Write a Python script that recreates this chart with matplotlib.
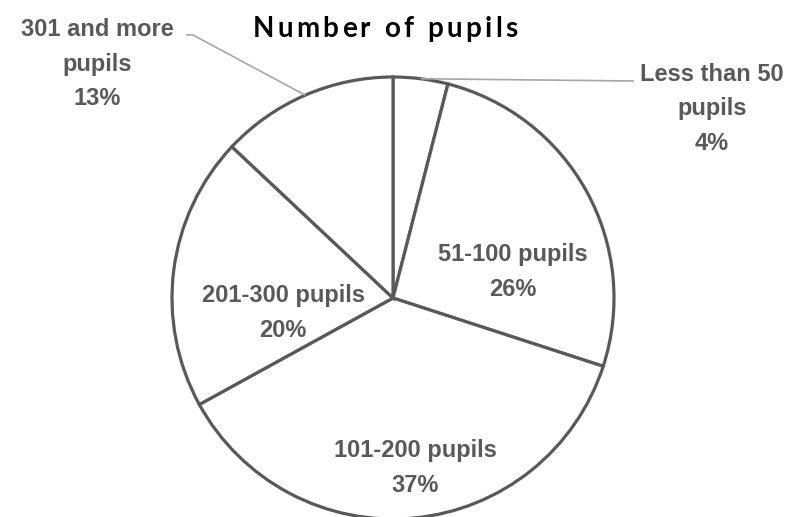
import numpy as np
import matplotlib
matplotlib.use("Agg")
import matplotlib.pyplot as plt

categories = ["Less than 50\npupils", "51-100 pupils", "101-200 pupils", "201-300 pupils", "301 and more\npupils"]
values = [4, 26, 37, 20, 13]
title = "Number of pupils"

W, H = 792, 517
fig = plt.figure(figsize=(W / 100, H / 100), dpi=100)
ax = fig.add_axes([0, 0, 1, 1])
ax.set_xlim(0, W)
ax.set_ylim(0, H)
ax.set_aspect("equal")
ax.axis("off")

cx, cy, r = 393, H - 298, 221
edge = "#595959"
txt = "#595959"
font = ["Liberation Sans", "DejaVu Sans"]

wedges, _ = ax.pie(values, startangle=90, counterclock=False, center=(cx, cy), radius=r,
                   colors=["white"] * len(values),
                   wedgeprops=dict(edgecolor=edge, linewidth=2.3, joinstyle="miter"))
ax.set_xlim(0, W)
ax.set_ylim(0, H)

total = sum(values)
labels = [f"{c}\n{v / total * 100:.0f}%" for c, v in zip(categories, values)]
label_pos = [(712, H - 109), (513, H - 272), (415, H - 468), (283, H - 313), (97, H - 64)]
for lab, (x, y) in zip(labels, label_pos):
    ax.text(x, y, lab, ha="center", va="center", fontsize=17, fontweight="bold",
            color=txt, family=font, linespacing=1.62)

# leader lines
cum = np.cumsum([0] + values)
def edge_point(i):
    mid = 90 - (cum[i] + values[i] / 2) / total * 360
    a = np.deg2rad(mid)
    return cx + r * np.cos(a), cy + r * np.sin(a)

px, py = edge_point(0)
ax.plot([px, 634], [py, H - 81], color="#a6a6a6", lw=1.2, solid_capstyle="butt")
px, py = edge_point(4)
ax.plot([px, 193, 186], [py, H - 35, H - 35], color="#a6a6a6", lw=1.2, solid_capstyle="butt")

# title with letter spacing
fig.canvas.draw()
renderer = fig.canvas.get_renderer()
chars = list(title)
tfont = ["Lato", "DejaVu Sans"]
widths = []
for ch in chars:
    t = ax.text(0, 0, ch if ch != " " else "n", fontsize=20, fontweight="bold", family=tfont)
    bb = t.get_window_extent(renderer)
    widths.append(bb.width * (0.5 if ch == " " else 1))
    t.remove()
spacing = 3.2
total_w = sum(widths) + spacing * (len(chars) - 1)
x = 385 - total_w / 2
for ch, w in zip(chars, widths):
    ax.text(x, H - 29, ch, fontsize=20, fontweight="bold", color="black",
            family=tfont, ha="left", va="center")
    x += w + spacing

fig.savefig("out.png", dpi=100)
